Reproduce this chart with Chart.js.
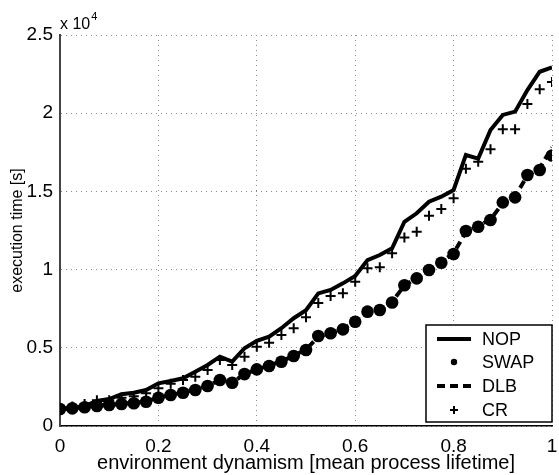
<!DOCTYPE html>
<html>
<head>
<meta charset="utf-8">
<script src="https://cdn.jsdelivr.net/npm/chart.js@4/dist/chart.umd.min.js"></script>
<style>
html,body{margin:0;padding:0;background:#fff;}
#wrap{width:559px;height:475px;position:relative;}
</style>
</head>
<body>
<div id="wrap"><canvas id="c" width="559" height="475"></canvas></div>
<script>
// x values: environment dynamism [mean process lifetime]
const xValues = [0,0.025,0.05,0.075,0.1,0.125,0.15,0.175,0.2,0.225,0.25,0.275,0.3,0.325,0.35,0.375,0.4,0.425,0.45,0.475,0.5,0.525,0.55,0.575,0.6,0.625,0.65,0.675,0.7,0.725,0.75,0.775,0.8,0.825,0.85,0.875,0.9,0.925,0.95,0.975,1];
// execution time [s]
const nopValues = [1090,1150,1280,1600,1720,2030,2130,2300,2730,2880,3050,3470,3900,4430,4110,4970,5450,5710,6250,6890,7400,8480,8700,9120,9590,10610,10930,11360,13060,13600,14340,14660,15090,17330,17100,18930,19890,20100,21480,22650,22930];
const swapValues = [1090,1130,1200,1280,1340,1410,1450,1550,1810,1980,2130,2300,2560,2940,2770,3320,3620,3840,4110,4480,4860,5750,5930,6180,6670,7310,7420,7900,9000,9440,9970,10440,11000,12470,12740,13170,14300,14620,16050,16370,17300];
const dlbValues = [1100,1140,1210,1290,1350,1420,1470,1570,1800,1990,2150,2320,2580,2920,2790,3300,3630,3860,4130,4500,4900,5700,5950,6200,6700,7280,7450,7950,8980,9450,10000,10480,11050,12400,12800,13200,14250,14700,16000,16500,17800];
const crValues = [1100,1250,1400,1650,1650,1800,1900,2100,2410,2700,2940,3150,3580,4220,3900,4430,5070,5330,5820,6250,6950,7860,8310,8480,9230,10080,10150,11040,12060,12420,13450,13870,14560,16450,16900,17690,18970,18970,20590,21530,22000];
const seriesNames = ['NOP','SWAP','DLB','CR'];
const xTickLabels = ['0','0.2','0.4','0.6','0.8','1'];
const yTickLabels = ['0','0.5','1','1.5','2','2.5'];

const FONT = '"Liberation Sans", Arial, Helvetica, sans-serif';
const pts = arr => arr.map((v,i)=>({x:xValues[i], y:v}));

const legendPlugin = {
  id:'customLegend',
  afterDraw(chart){
    const ctx = chart.ctx;
    ctx.save();
    // x 10^4 multiplier
    ctx.fillStyle='#000';
    ctx.font = '16px ' + FONT;
    ctx.textBaseline='alphabetic';
    ctx.textAlign='left';
    ctx.fillText('x 10', 60, 29);
    const w = ctx.measureText('x 10').width;
    ctx.font = '11px ' + FONT;
    ctx.fillText('4', 60 + w + 1, 20);
    // legend box
    const bx=426, by=325, bw=126, bh=97;
    ctx.fillStyle='#fff';
    ctx.fillRect(bx,by,bw,bh);
    ctx.strokeStyle='#000';
    ctx.lineWidth=1.5;
    ctx.strokeRect(bx,by,bw,bh);
    const rows=[339,362,386,410];
    const x0=437, x1=471, xm=454;
    ctx.font='18px ' + FONT;
    ctx.textBaseline='middle';
    ctx.textAlign='left';
    chart.data.datasets.forEach(ds=>{
      const idx = seriesNames.indexOf(ds.label);
      const y = rows[idx];
      ctx.strokeStyle='#000'; ctx.fillStyle='#000';
      if(ds.label==='NOP'){
        ctx.setLineDash([]); ctx.lineWidth=4;
        ctx.beginPath(); ctx.moveTo(x0,y); ctx.lineTo(x1,y); ctx.stroke();
      } else if(ds.label==='SWAP'){
        ctx.beginPath(); ctx.arc(xm,y,3.2,0,Math.PI*2); ctx.fill();
      } else if(ds.label==='DLB'){
        ctx.setLineDash([8,5]); ctx.lineWidth=4;
        ctx.beginPath(); ctx.moveTo(x0,y); ctx.lineTo(x1+2,y); ctx.stroke();
        ctx.setLineDash([]);
      } else {
        ctx.lineWidth=2;
        ctx.beginPath(); ctx.moveTo(xm-4,y); ctx.lineTo(xm+4,y); ctx.moveTo(xm,y-4); ctx.lineTo(xm,y+4); ctx.stroke();
      }
      ctx.fillText(ds.label, 482, y+1);
    });
    ctx.restore();
  }
};

new Chart(document.getElementById('c'), {
  type:'line',
  data:{
    datasets:[
      {label:'DLB', data:pts(dlbValues), borderColor:'#000', borderWidth:4, borderDash:[8,5], pointRadius:0, fill:false, tension:0, order:4},
      {label:'NOP', data:pts(nopValues), borderColor:'#000', borderWidth:4, pointRadius:0, fill:false, tension:0, order:3},
      {label:'SWAP', data:pts(swapValues), showLine:false, pointStyle:'circle', pointRadius:6.3, backgroundColor:'#000', borderColor:'#000', borderWidth:0, order:2},
      {label:'CR', data:pts(crValues), showLine:false, pointStyle:'cross', pointRadius:5, borderColor:'#000', borderWidth:2, order:1}
    ]
  },
  options:{
    responsive:false,
    animation:false,
    devicePixelRatio:1,
    layout:{padding:{top:35,right:2,left:0,bottom:0}},
    plugins:{legend:{display:false}, tooltip:{enabled:false}},
    scales:{
      x:{
        type:'linear', min:0, max:1,
        afterFit(s){ s.height=49; s.paddingRight=0; s.paddingLeft=0; },
        ticks:{stepSize:0.2, padding:9, color:'#000', font:{family:FONT,size:19},
          callback:(v)=>{ const i=Math.round(v/0.2); return xTickLabels[i]; }},
        grid:{color:'#8a8a8a', lineWidth:1, drawTicks:false},
        border:{display:true, color:'#000', width:1.5, dash:[1,4]},
        title:{display:true, text:'environment dynamism [mean process lifetime]', color:'#000', font:{family:FONT,size:20}, padding:{top:0,bottom:0}}
      },
      y:{
        type:'linear', min:0, max:25000,
        afterFit(s){ s.width=60; s.paddingTop=0; s.paddingBottom=0; },
        ticks:{stepSize:5000, padding:7, color:'#000', font:{family:FONT,size:19},
          callback:(v)=>{ const i=Math.round(v/5000); return yTickLabels[i]; }},
        grid:{color:'#8a8a8a', lineWidth:1, drawTicks:false},
        border:{display:true, color:'#444', width:2, dash:[1,4]},
        title:{display:true, text:'execution time [s]', color:'#000', font:{family:FONT,size:16}, padding:{top:8,bottom:0}}
      }
    }
  },
  plugins:[legendPlugin]
});
</script>
</body>
</html>
